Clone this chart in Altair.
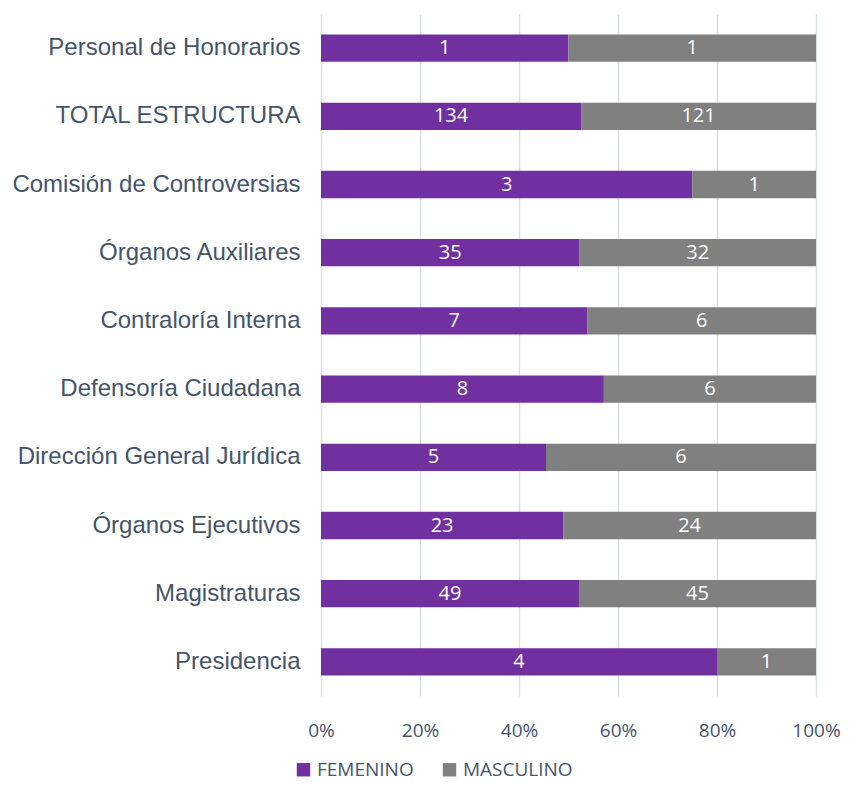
import altair as alt
import pandas as pd

categories = ["Personal de Honorarios", "TOTAL ESTRUCTURA", "Comisión de Controversias",
              "Órganos Auxiliares", "Contraloría Interna", "Defensoría Ciudadana",
              "Dirección General Jurídica", "Órganos Ejecutivos", "Magistraturas", "Presidencia"]
femenino = [1, 134, 3, 35, 7, 8, 5, 23, 49, 4]
masculino = [1, 121, 1, 32, 6, 6, 6, 24, 45, 1]
series = ["FEMENINO", "MASCULINO"]
colors = ["#7030A0", "#808080"]

rows = []
for c, f, m in zip(categories, femenino, masculino):
    rows.append({"cat": c, "sexo": "FEMENINO", "n": f, "ord": 0})
    rows.append({"cat": c, "sexo": "MASCULINO", "n": m, "ord": 1})
df = pd.DataFrame(rows)

base = alt.Chart(df).transform_joinaggregate(
    total="sum(n)", groupby=["cat"]
).transform_calculate(
    pct="datum.n / datum.total"
).transform_window(
    cum="sum(pct)", groupby=["cat"], sort=[alt.SortField("ord")], frame=[None, 0]
).transform_calculate(
    start="datum.cum - datum.pct", mid="datum.cum - datum.pct / 2"
)

y = alt.Y("cat:N", sort=categories, title=None,
          scale=alt.Scale(paddingInner=0.6, paddingOuter=0.3),
          axis=alt.Axis(labelFont="Liberation Sans", labelFontSize=24, labelColor="#44546A",
                        labelPadding=21, ticks=False, domain=False, grid=False, labelLimit=400))

bars = base.mark_bar().encode(
    x=alt.X("start:Q", title=None, scale=alt.Scale(domain=[0, 1], nice=False),
            axis=alt.Axis(format="%", values=[0, 0.2, 0.4, 0.6, 0.8, 1.0], grid=True,
                          gridColor="#D9DEE8", gridWidth=1.5, domain=False, ticks=False,
                          labelFlush=False,
                          labelFont="Open Sans", labelFontSize=19, labelColor="#44546A",
                          labelPadding=25)),
    x2="cum:Q",
    y=y,
    color=alt.Color("sexo:N", scale=alt.Scale(domain=series, range=colors), title=None,
                    legend=alt.Legend(orient="none", legendX=-27, legendY=746, direction="horizontal",
                                      symbolType="square", symbolSize=180, symbolStrokeWidth=0,
                                      labelFont="Open Sans", labelFontSize=19, labelColor="#44546A",
                                      columnPadding=26, labelOffset=4)),
)

text = base.mark_text(color="white", font="Open Sans", fontSize=20).encode(
    x="mid:Q", y=alt.Y("cat:N", sort=categories), text="n:Q"
)

chart = (bars + text).properties(
    width=495, height=682, autosize=alt.AutoSizeParams(type="none"),
    padding={"left": 313, "top": 6, "right": 25, "bottom": 85}
).configure_view(stroke=None)

chart.save("out.html", embed_options={"renderer": "svg", "actions": False})
